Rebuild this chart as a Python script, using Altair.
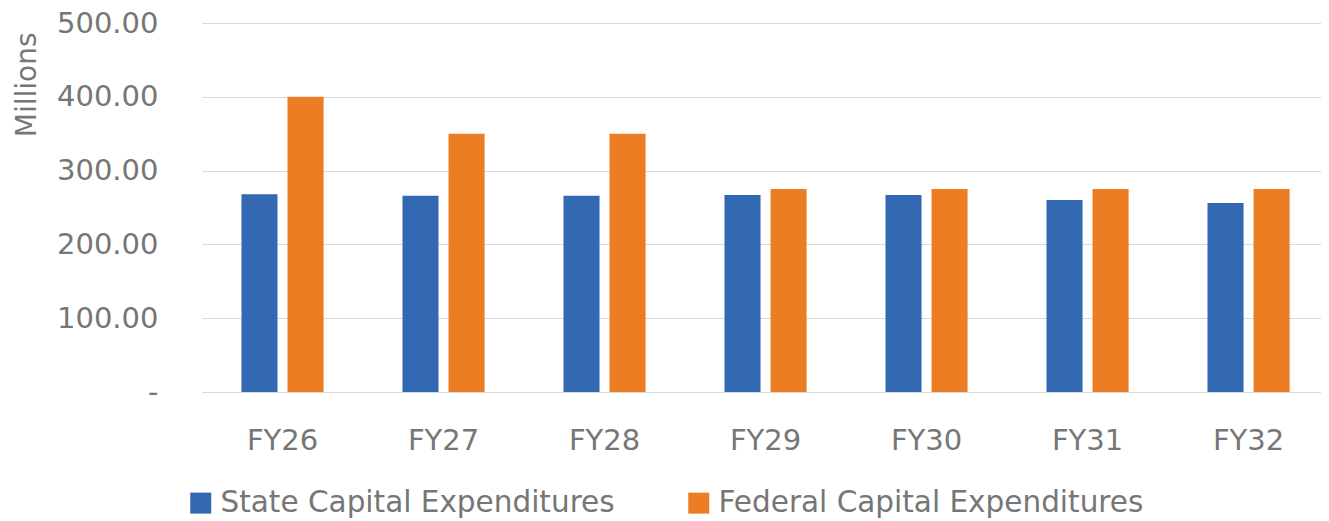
import altair as alt
import pandas as pd

years = ["FY26", "FY27", "FY28", "FY29", "FY30", "FY31", "FY32"]
state = [268, 266, 266, 267, 267, 260, 256]
federal = [400, 350, 350, 275, 275, 275, 275]
series = ["State Capital Expenditures", "Federal Capital Expenditures"]
colors = ["#3369B3", "#ED7D22"]

rows = []
for i, y in enumerate(years):
    rows.append({"year": y, "series": series[0], "value": state[i]})
    rows.append({"year": y, "series": series[1], "value": federal[i]})
df = pd.DataFrame(rows)

FONT = "DejaVu Sans"
GREY = "#767676"

chart = alt.Chart(df).mark_bar().encode(
    x=alt.X("year:N", sort=years,
            scale=alt.Scale(paddingInner=0.49, paddingOuter=0.22, align=0.557),
            axis=alt.Axis(title=None, labelAngle=0, ticks=False, tickSize=0, domain=False,
                          labelPadding=34, labelFontSize=29, labelColor=GREY, labelFont=FONT,
                          labelBaseline="top")),
    xOffset=alt.XOffset("series:N", sort=series,
                        scale=alt.Scale(paddingInner=0.217, paddingOuter=0)),
    y=alt.Y("value:Q",
            scale=alt.Scale(domain=[0, 500], nice=False),
            axis=alt.Axis(title="Millions", values=[0, 100, 200, 300, 400, 500],
                          labelExpr="datum.value == 0 ? '-\u00a0\u00a0' : format(datum.value, '.2f')",
                          ticks=False, tickSize=0, domain=False, labelPadding=44,
                          labelFontSize=29, labelColor=GREY, labelFont=FONT,
                          labelBaseline="middle",
                          grid=True, gridColor="#d9d9d9", gridWidth=1.2,
                          titleFont=FONT, titleFontSize=28, titleFontWeight="normal",
                          titleColor=GREY, titleAngle=270, titleAlign="right",
                          titleBaseline="alphabetic", titleX=-167, titleY=9)),
    color=alt.Color("series:N", sort=series,
                    scale=alt.Scale(domain=series, range=colors),
                    legend=alt.Legend(title=None, orient="none", direction="horizontal",
                                      legendX=-16, legendY=465, padding=0,
                                      symbolType="square", symbolSize=441,
                                      symbolStrokeWidth=0, labelOffset=5,
                                      columnPadding=69, labelFontSize=29.5, labelLimit=0,
                                      labelColor=GREY, labelFont=FONT)),
).properties(
    width=1119,
    height=369,
    autosize=alt.AutoSizeParams(type="none"),
    padding={"left": 194, "top": 15, "right": 0, "bottom": 129},
).configure_view(stroke=None)

chart.save("out.html", embed_options={"renderer": "svg", "actions": False})
